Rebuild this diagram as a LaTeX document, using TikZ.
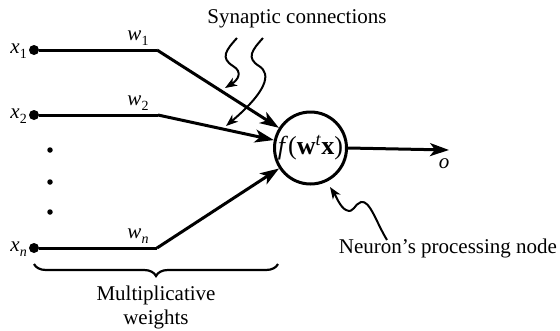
\documentclass[tikz,border=0pt]{standalone}
\usepackage{fontspec}
\setmainfont{Liberation Serif}
\usetikzlibrary{arrows.meta,decorations.pathreplacing}
\newcommand{\lblsub}[2]{\textit{#1}\raisebox{-5pt}{\fontsize{14}{14}\selectfont #2}}
\begin{document}
\begin{tikzpicture}[x=1pt,y=-1pt,
  font=\fontsize{21}{24}\selectfont,
  wire/.style={line width=3pt},
  arr/.style={wire,-{Stealth[length=19pt,width=13pt,inset=5pt]}},
  squig/.style={line width=2pt,-{Stealth[length=12pt,width=9pt,inset=3.5pt]}},
  indot/.style={circle,fill,inner sep=0pt,minimum size=10pt},
  vdot/.style={circle,fill,inner sep=0pt,minimum size=5.5pt},
  lbl/.style={inner sep=0pt}]
\useasboundingbox (0,0) rectangle (560,330);
% inputs
\node[indot] (d1) at (34,50) {};
\node[indot] (d2) at (34,115) {};
\node[indot] (dn) at (34,248) {};
\node[lbl,anchor=east] (x1) at (27,51) {\lblsub{x}{1}};
\node[lbl,anchor=east] (x2) at (27,116) {\lblsub{x}{2}};
\node[lbl,anchor=east] (xn) at (27,249) {\lblsub{x}{\textit{n}}};
\node[vdot] (v1) at (50,150) {};
\node[vdot] (v2) at (50,182) {};
\node[vdot] (v3) at (50,212) {};
\coordinate (c1) at (157,50);
\coordinate (c2) at (158,115);
\coordinate (cn) at (157,248);
\node[lbl] (w1) at (138,38) {\lblsub{w}{1}};
\node[lbl] (w2) at (138,103) {\lblsub{w}{2}};
\node[lbl] (wn) at (138,236) {\lblsub{w}{\textit{n}}};
% neuron
\node[circle,draw,line width=3pt,minimum size=72pt,inner sep=0pt,
      font=\fontsize{26}{28}\selectfont] (neuron) at (310.5,148)
  {\textit{f}(\textbf{w}\textsuperscript{\textit{t}}\textbf{x})};
\draw[wire] (d1) -- (c1);
\draw[wire] (d2) -- (c2);
\draw[wire] (dn) -- (cn);
\draw[arr] (c1) -- (neuron);
\draw[arr] (c2) -- (neuron);
\draw[arr] (cn) -- (neuron);
\coordinate (out) at (449,150);
\draw[arr] (neuron.east) -- (out);
\node[lbl] (o) at (444,164) {\textit{o}};
% synaptic label
\node[lbl] (syn) at (297,19) {Synaptic connections};
\coordinate (s1) at (237,38);
\coordinate (s2) at (263,38);
\coordinate (t1) at (225,88);
\coordinate (t2) at (226,126);
\draw[squig] (s1) .. controls (226,50) and (220,58) .. (233,66)
  .. controls (243,72) and (238,80) .. (t1);
\draw[squig] (s2) .. controls (252,50) and (246,58) .. (259,66)
  .. controls (272,74) and (266,92) .. (t2);
% neuron's processing node
\node[lbl] (npn) at (448,248) {Neuron’s processing node};
\coordinate (n0) at (387,240);
\coordinate (nt) at (330,187);
\draw[squig] (n0) .. controls (376,222) and (370,200) .. (361,202)
  .. controls (354,204) and (354,214) .. (346,210)
  .. controls (340,207) and (336,196) .. (nt);
% brace
\coordinate (b1) at (34,264);
\coordinate (b2) at (278,264);
\draw[line width=2.2pt,decorate,decoration={brace,mirror,amplitude=12pt}] (b1) -- (b2);
\node[lbl,align=center] (mw) at (156,307) {Multiplicative\\weights};
\end{tikzpicture}
\end{document}
